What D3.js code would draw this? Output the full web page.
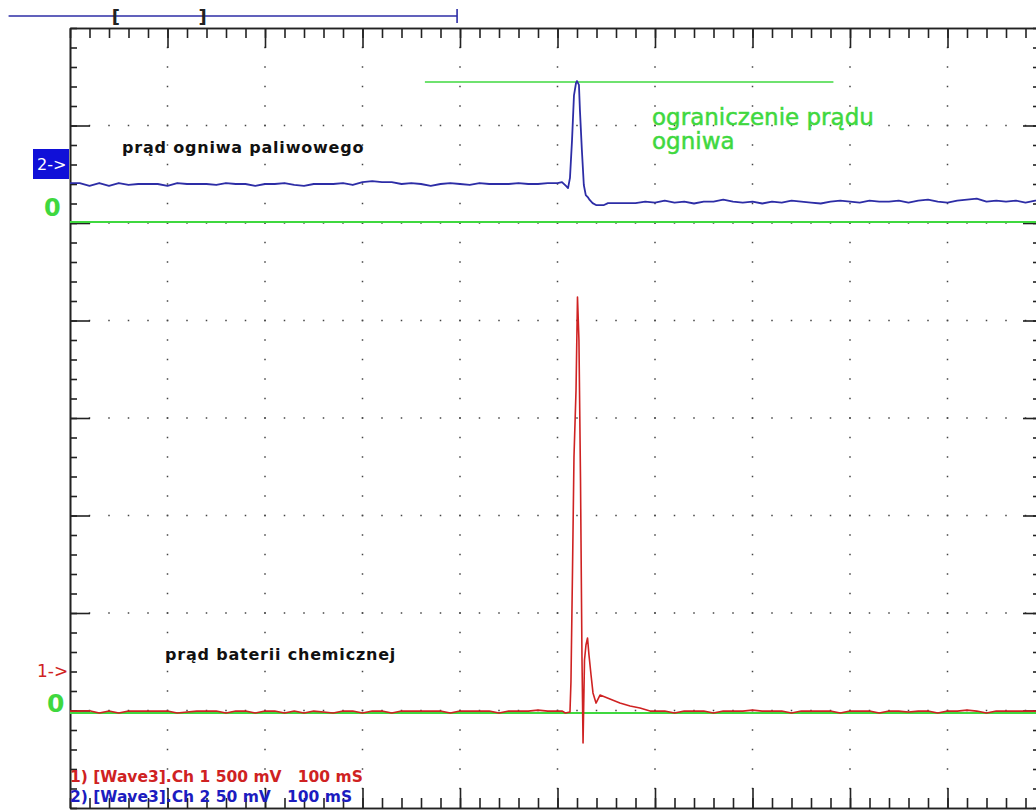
<!DOCTYPE html>
<html>
<head>
<meta charset="utf-8">
<title>Prąd ogniwa paliwowego i baterii chemicznej</title>
<script src="https://d3js.org/d3.v7.min.js"></script>
<style>
  body { margin: 0; background: #fff; }
  svg { display: block; }
  text { font-family: "DejaVu Sans", Verdana, sans-serif; }
</style>
</head>
<body>
<div id="chart"></div>
<script>
const ch2PreTimes = d3.range(0, 501, 10);
const ch2PreValues = [20, 20, 18.5, 20, 18.5, 20, 19, 19.5, 19.5, 19.5, 18.5, 20, 19.5, 19.5, 19.5, 19,
  20, 19.5, 19.5, 18.5, 19.5, 19.5, 20, 19, 18.5, 19.5, 19.5, 19.5, 20, 19, 20.5, 21, 20.5, 20.5, 19.5,
  20, 19.5, 18.5, 19.5, 20, 19.5, 19, 20, 19.5, 19.5, 19.5, 20, 19.5, 19.5, 20, 20];
const ch2SpikeTimes = [504.6, 508.7, 510.8, 512.8, 514.9, 516.9, 519, 520, 522, 523, 525, 527, 529, 531, 533, 536, 539.5, 547.7, 551.8];
const ch2SpikeValues = [20.5, 18.5, 17.4, 22.6, 42, 65, 71.3, 72.3, 70.3, 57.4, 36.9, 19, 13.8, 12.8, 11.3, 9.7, 8.7, 8.7, 9.7];
const ch2PostTimes = d3.range(560, 1001, 10);
const ch2PostValues = [9.7, 9.7, 9.7, 10.5, 10, 11, 10, 10.5, 9.5, 10.5, 10.5, 11.5, 10.5, 10, 10.5, 9.5,
  10.5, 10, 11, 10.5, 10, 9.5, 10.5, 11, 10.5, 10, 11, 10.5, 10.5, 11, 10, 11, 11.5, 10.5, 10, 11, 11.5,
  12, 10.5, 11, 10.5, 11, 10, 11, 10.5];

const ch1PreTimes = d3.range(0, 501, 10);
const ch1PreValues = [10, 10, 12, 0, 10, 0, 10, 10, 10, 10, 10, 0, 5, 10, 10, 10, 0, 10, 10, 0, 10, 10, 0,
  10, 0, 10, 5, 0, 10, 10, 0, 10, 10, 0, 10, 10, 10, 10, 10, 0, 10, 10, 10, 10, 0, 10, 10, 10, 15, 10, 10];
const ch1SpikeTimes = [505, 508, 512.8, 513.8, 515.4, 516.9, 519, 520.5, 522, 523.6, 525.1, 526.2, 527.7,
  529.2, 530.8, 532.3, 534.4, 536.4, 539.5, 543.6, 553.8, 564, 574.4, 584.6, 594.9];
const ch1SpikeValues = [10, 0, 5, 159, 733, 1313, 1656, 2133, 1913, 1195, 287, -154, 272, 349, 385, 297,
  195, 103, 51, 92, 72, 51, 36, 26, 10];
const ch1PostTimes = d3.range(600, 1001, 10);
const ch1PostValues = [10, 10, 0, 10, 10, 10, 0, 10, 10, 10, 15, 10, 10, 10, 0, 10, 10, 10, 10, 0, 10, 10,
  10, 0, 10, 10, 5, 10, 10, 0, 10, 10, 15, 10, 0, 10, 10, 10, 10, 10, 0];

// ograniczenie prądu ogniwa (kanał 2)
const limitValue = 71.8;
const limitTimes = [364, 783];

// kanały: mV / działkę i położenie zera (działki od środka ekranu)
const ch1 = { mvPerDiv: 500, offset: -3.026 };
const ch2 = { mvPerDiv: 50, offset: 2.01 };

const legendLines = [
  "1) [Wave3].Ch 1 500 mV   100 mS",
  "2) [Wave3].Ch 2 50 mV   100 mS"
];

// pasek podglądu na górze (ms)
const overview = { start: -63, end: 397, left: 46, right: 137 };

// --- wykres ---
const W = 1036, H = 810;
const blue = "#2d2da6", red = "#cf2222", green = "#3fd83f";

const x = d3.scaleLinear().domain([0, 1000]).range([70, 1045]);
const y = d3.scaleLinear().domain([-4, 4]).range([808, 28]);

const svg = d3.select("#chart").append("svg")
    .attr("width", W)
    .attr("height", H);

function zip(ts, vs) { return ts.map(function(t, i) { return [t, vs[i]]; }); }
function yCh(ch, mv) { return y(ch.offset + mv / ch.mvPerDiv); }

// kropki siatki
const minorX = d3.range(20, 1000, 20), minorY = d3.range(-3.8, 4, 0.2);
const majorX = d3.range(100, 1000, 100), majorY = d3.range(-3, 4, 1);
const dots = [];
majorX.forEach(function(t) { minorY.forEach(function(d) { dots.push([t, d]); }); });
majorY.forEach(function(d) { minorX.forEach(function(t) { dots.push([t, d]); }); });
svg.append("g").selectAll("rect")
  .data(dots).enter()
  .append("rect")
    .attr("x", function(d) { return x(d[0]) - 0.75; })
    .attr("y", function(d) { return y(d[1]) - 0.75; })
    .attr("width", 1.5)
    .attr("height", 1.5)
    .attr("fill", "#444");

// osie / ramka z podziałką
function ticks(axis, size, values) {
  return axis.tickValues(values).tickSizeInner(size).tickSizeOuter(0).tickFormat("");
}
const allX = d3.range(0, 1001, 20), allY = d3.range(-4, 4.01, 0.2);
const frame = svg.append("g").attr("class", "frame");
frame.append("g").attr("transform", "translate(0," + y(4) + ")").call(ticks(d3.axisTop(x), -10, allX));
frame.append("g").attr("transform", "translate(0," + y(4) + ")").call(ticks(d3.axisTop(x), -20, majorX));
frame.append("g").attr("transform", "translate(0," + y(-4) + ")").call(ticks(d3.axisBottom(x), -10, allX));
frame.append("g").attr("transform", "translate(0," + y(-4) + ")").call(ticks(d3.axisBottom(x), -20, majorX));
frame.append("g").attr("transform", "translate(" + x(0) + ",0)").call(ticks(d3.axisLeft(y), -7, allY));
frame.append("g").attr("transform", "translate(" + x(0) + ",0)").call(ticks(d3.axisLeft(y), -20, majorY));
frame.append("g").attr("transform", "translate(" + x(1000) + ",0)").call(ticks(d3.axisRight(y), -12, allY));
frame.append("g").attr("transform", "translate(" + x(1000) + ",0)").call(ticks(d3.axisRight(y), -22, majorY));
frame.selectAll("path.domain").attr("stroke", "#222").attr("stroke-width", 1.6);
frame.selectAll(".tick line").attr("stroke", "#222").attr("stroke-width", 1.6);

// linie zera
[ch2, ch1].forEach(function(ch) {
  svg.append("line")
    .attr("x1", x(0)).attr("x2", x(1000))
    .attr("y1", yCh(ch, 0)).attr("y2", yCh(ch, 0))
    .attr("stroke", green).attr("stroke-width", 2);
});

// ograniczenie
svg.append("line")
  .attr("x1", x(limitTimes[0])).attr("x2", x(limitTimes[1]))
  .attr("y1", yCh(ch2, limitValue)).attr("y2", yCh(ch2, limitValue))
  .attr("stroke", green).attr("stroke-width", 1.6);

// przebiegi
const ch2Data = zip(ch2PreTimes, ch2PreValues).concat(zip(ch2SpikeTimes, ch2SpikeValues), zip(ch2PostTimes, ch2PostValues));
const ch1Data = zip(ch1PreTimes, ch1PreValues).concat(zip(ch1SpikeTimes, ch1SpikeValues), zip(ch1PostTimes, ch1PostValues));

const line2 = d3.line().x(function(d) { return x(d[0]); }).y(function(d) { return yCh(ch2, d[1]); });
const line1 = d3.line().x(function(d) { return x(d[0]); }).y(function(d) { return yCh(ch1, d[1]); });

svg.append("path").datum(ch2Data).attr("d", line2)
  .attr("fill", "none").attr("stroke", blue).attr("stroke-width", 1.8).attr("stroke-linejoin", "round");
svg.append("path").datum(ch1Data).attr("d", line1)
  .attr("fill", "none").attr("stroke", red).attr("stroke-width", 1.6).attr("stroke-linejoin", "round");

// znaczniki kanałów
svg.append("rect").attr("x", 33).attr("y", 149).attr("width", 36).attr("height", 30).attr("fill", "#1010d8");
svg.append("text").attr("x", 37).attr("y", 170).attr("fill", "#fff").attr("font-size", 16).text("2->");
svg.append("text").attr("x", 37).attr("y", 677).attr("fill", red).attr("font-size", 17).text("1->");
svg.append("text").attr("x", 44).attr("y", yCh(ch2, 0) - 6).attr("fill", green)
  .attr("font-size", 24).attr("font-weight", "bold").text("0");
svg.append("text").attr("x", 47).attr("y", yCh(ch1, 0) - 1).attr("fill", green)
  .attr("font-size", 25).attr("font-weight", "bold").text("0");

// opisy
svg.append("text").attr("x", 122).attr("y", 153).attr("font-size", 16).attr("font-weight", "bold")
  .attr("letter-spacing", 0.8).attr("fill", "#111").text("prąd ogniwa paliwowego");
svg.append("text").attr("x", 165).attr("y", 660).attr("font-size", 16).attr("font-weight", "bold")
  .attr("letter-spacing", 0.8).attr("fill", "#111").text("prąd baterii chemicznej");
svg.append("text").attr("x", 652).attr("y", 125).attr("font-size", 23).attr("fill", green)
  .attr("stroke", green).attr("stroke-width", 0.5).text("ograniczenie prądu");
svg.append("text").attr("x", 652).attr("y", 149).attr("font-size", 23).attr("fill", green)
  .attr("stroke", green).attr("stroke-width", 0.5).text("ogniwa");

// legenda
svg.selectAll("text.legend")
  .data(legendLines).enter()
  .append("text")
    .attr("class", "legend")
    .attr("x", 70)
    .attr("y", function(d, i) { return 782 + i * 20; })
    .attr("font-size", 15.5)
    .attr("font-weight", "bold")
    .attr("fill", function(d, i) { return i === 0 ? red : "#1c1cc0"; })
    .style("white-space", "pre")
    .text(function(d) { return d; });

// pasek podglądu
svg.append("line").attr("x1", x(overview.start)).attr("x2", x(overview.end))
  .attr("y1", 16).attr("y2", 16).attr("stroke", blue).attr("stroke-width", 1.6);
svg.append("line").attr("x1", x(overview.end)).attr("x2", x(overview.end))
  .attr("y1", 9).attr("y2", 23).attr("stroke", blue).attr("stroke-width", 1.6);
svg.append("text").attr("x", x(overview.left) - 3).attr("y", 23).attr("font-size", 18).attr("font-weight", "bold")
  .attr("fill", "#222").text("[");
svg.append("text").attr("x", x(overview.right) - 5).attr("y", 23).attr("font-size", 18).attr("font-weight", "bold")
  .attr("fill", "#222").text("]");
</script>
</body>
</html>
